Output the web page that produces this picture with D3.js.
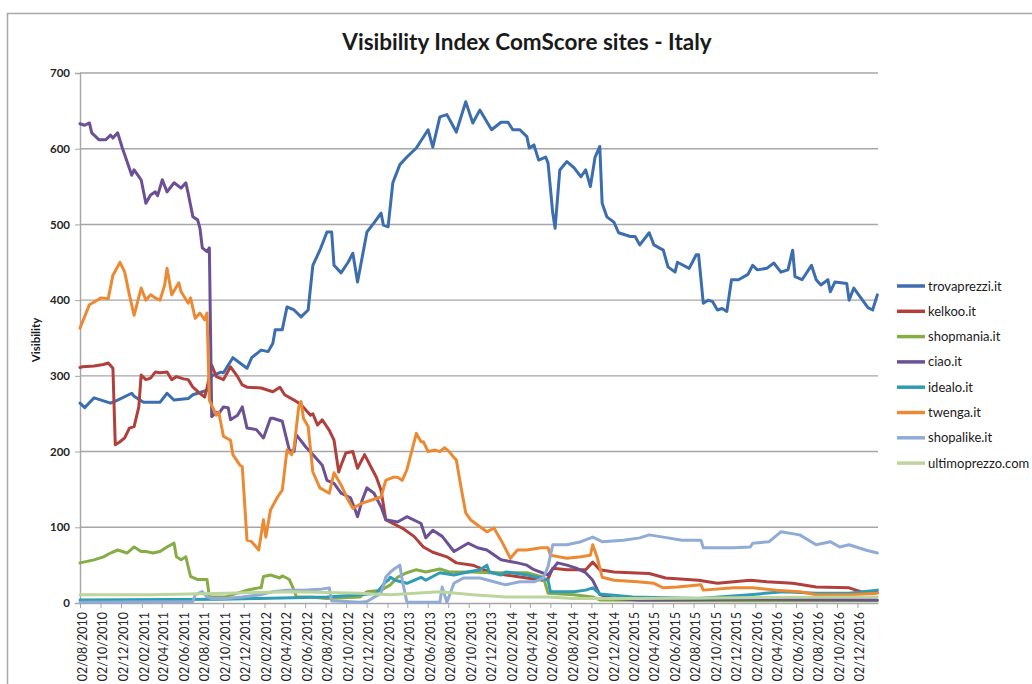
<!DOCTYPE html>
<html>
<head>
<meta charset="utf-8">
<script src="https://cdn.jsdelivr.net/npm/d3@7"></script>
<style>
body { margin: 0; background: #fff; }
text { font-family: Lato, "Open Sans", sans-serif; }
</style>
</head>
<body>
<svg id="chart" width="1032" height="684"></svg>
<script>
// weekly data, first element = week number counted from 02/08/2010
var trovaprezzi = [[0,264],[2,258],[6,271],[13,264],[16,268],[22,277],[23,273],[27,265],[34,265],[37,277],[40,268],[46,270],[48,275],[50,277],[54,281],[56,300],[60,305],[61,304],[65,324],[71,310],[73,324],[77,334],[80,332],[82,343],[83,361],[86,361],[88,391],[91,387],[94,378],[97,387],[99,446],[102,466],[105,490],[107,490],[108,446],[111,436],[114,450],[116,462],[118,424],[120,457],[122,490],[125,502],[128,515],[129,499],[131,497],[133,555],[136,579],[139,589],[143,601],[148,625],[150,602],[153,642],[156,645],[160,622],[164,662],[167,634],[170,651],[175,625],[179,635],[182,635],[184,625],[187,625],[190,616],[191,601],[193,605],[195,585],[198,589],[199,581],[201,515],[202,495],[204,572],[207,583],[210,575],[213,563],[215,572],[217,550],[219,589],[221,603],[222,528],[224,510],[227,503],[229,489],[234,484],[236,484],[238,473],[242,489],[244,473],[248,466],[250,444],[253,437],[254,450],[259,442],[262,460],[263,460],[265,396],[267,400],[269,398],[271,387],[273,389],[275,385],[277,427],[280,427],[284,434],[286,446],[288,440],[292,442],[295,449],[298,437],[301,440],[303,466],[304,431],[307,427],[311,446],[313,427],[315,420],[318,427],[319,411],[321,424],[326,422],[327,400],[329,416],[332,403],[335,390],[337,387],[339,407]];

var kelkoo = [[0,311],[1,312],[6,313],[10,315],[12,317],[14,310],[15,209],[17,213],[19,218],[21,231],[23,233],[25,259],[26,301],[28,295],[30,297],[32,305],[34,304],[37,305],[39,295],[41,299],[44,296],[46,295],[48,285],[51,277],[53,272],[54,284],[56,314],[58,299],[61,295],[64,312],[67,299],[69,288],[71,285],[77,284],[82,279],[85,285],[87,275],[91,268],[94,262],[98,248],[99,250],[101,235],[103,242],[106,228],[108,215],[110,173],[111,182],[113,198],[116,200],[118,178],[121,196],[124,178],[126,166],[128,149],[130,110],[133,105],[137,99],[142,88],[146,74],[150,67],[156,61],[160,53],[167,50],[174,41],[181,37],[190,33],[197,30],[199,32],[201,46],[207,44],[215,44],[218,54],[221,44],[227,41],[234,40],[242,39],[249,33],[263,30],[271,26],[285,30],[292,28],[303,26],[313,21],[327,20],[332,15],[339,14]];

var shopmania = [[0,53],[6,57],[10,61],[13,66],[16,70],[18,68],[20,66],[23,74],[26,68],[28,68],[31,66],[34,68],[37,74],[40,79],[41,61],[43,57],[45,61],[47,35],[50,31],[54,31],[55,8],[62,8],[67,13],[71,17],[76,20],[77,20],[78,35],[81,37],[85,33],[86,36],[89,31],[91,17],[92,8],[98,8],[105,6],[119,8],[122,15],[128,17],[132,24],[135,34],[139,40],[143,44],[147,41],[153,45],[157,41],[167,41],[174,40],[190,40],[197,34],[199,13],[210,11],[218,8],[221,4],[264,3],[306,3],[339,3]];

var ciao = [[0,633],[2,631],[4,634],[5,621],[8,612],[11,612],[13,618],[14,614],[16,621],[18,601],[20,583],[22,565],[23,572],[26,559],[28,528],[30,539],[32,543],[33,538],[35,559],[37,543],[40,555],[43,548],[45,555],[46,541],[48,510],[50,506],[51,495],[52,469],[54,464],[55,469],[56,246],[58,252],[59,250],[61,259],[63,258],[64,242],[67,248],[69,259],[71,231],[75,229],[78,218],[81,244],[82,244],[84,242],[86,240],[89,202],[91,200],[92,222],[96,206],[99,196],[103,182],[105,162],[108,158],[111,145],[115,139],[117,123],[118,114],[120,136],[122,152],[125,145],[128,127],[130,110],[135,107],[139,114],[145,105],[147,86],[150,96],[154,88],[159,68],[165,79],[169,73],[173,70],[179,57],[186,53],[190,50],[193,44],[199,37],[203,53],[207,50],[211,46],[215,40],[218,30],[221,11],[227,6],[238,4],[280,5],[339,4]];

var idealo = [[0,4],[60,5],[76,6],[105,8],[119,11],[126,13],[130,28],[131,30],[132,34],[134,30],[139,26],[145,34],[147,30],[153,40],[159,37],[165,41],[170,44],[173,50],[174,41],[179,37],[181,41],[186,39],[190,37],[196,33],[199,30],[200,15],[210,15],[215,17],[218,20],[221,12],[235,8],[263,6],[285,11],[299,15],[313,13],[327,13],[339,17]];

var twenga = [[0,363],[4,394],[9,403],[12,402],[14,433],[17,450],[19,437],[21,407],[23,380],[26,416],[28,400],[30,407],[32,403],[34,400],[36,420],[37,442],[39,407],[42,423],[43,411],[46,396],[47,403],[49,376],[51,383],[53,374],[54,383],[55,268],[56,261],[58,248],[59,252],[61,220],[64,215],[65,196],[68,182],[69,180],[71,83],[73,81],[76,70],[78,110],[79,87],[81,123],[84,140],[86,149],[88,202],[90,196],[91,205],[93,259],[94,266],[95,244],[97,233],[99,173],[102,152],[106,145],[108,172],[111,156],[114,136],[116,125],[120,132],[124,136],[128,140],[130,162],[133,166],[135,166],[137,162],[139,176],[141,200],[143,224],[145,213],[146,213],[148,200],[151,202],[153,200],[155,205],[157,200],[159,192],[160,189],[162,153],[164,119],[166,110],[169,103],[173,94],[176,99],[179,83],[183,59],[186,70],[190,70],[196,73],[199,73],[200,63],[207,59],[213,61],[217,63],[218,77],[220,59],[222,34],[227,30],[237,28],[244,26],[248,20],[254,21],[264,24],[265,17],[278,20],[286,20],[296,17],[306,15],[313,11],[327,11],[339,13]];

var shopalike = [[0,1],[48,2],[49,11],[52,15],[54,8],[56,6],[62,6],[69,8],[77,11],[82,15],[88,17],[95,17],[102,18],[106,20],[107,3],[119,1],[122,2],[128,13],[130,34],[132,41],[134,46],[136,50],[137,30],[139,1],[153,1],[154,21],[156,1],[159,26],[163,33],[170,33],[176,28],[181,24],[187,28],[193,28],[197,33],[199,48],[201,77],[207,77],[213,81],[218,87],[222,81],[231,83],[238,86],[242,90],[248,87],[256,83],[264,83],[265,73],[278,73],[285,74],[286,79],[293,81],[298,94],[306,90],[313,77],[319,81],[323,74],[327,77],[334,70],[339,66]];

var ultimoprezzo = [[0,11],[30,11],[62,13],[90,15],[119,13],[132,11],[153,15],[167,11],[181,8],[199,8],[210,6],[238,6],[280,7],[339,8]];

var seriesNames = ["trovaprezzi.it", "kelkoo.it", "shopmania.it", "ciao.it", "idealo.it", "twenga.it", "shopalike.it", "ultimoprezzo.com"];
var seriesData = [trovaprezzi, kelkoo, shopmania, ciao, idealo, twenga, shopalike, ultimoprezzo];
var seriesColors = ["#3c6eaf", "#b13f3c", "#86ac45", "#6b5096", "#2f9bb4", "#ec8a33", "#90abd6", "#bcd59c"];

var xTickLabels = ["02/08/2010","02/10/2010","02/12/2010","02/02/2011","02/04/2011","02/06/2011","02/08/2011","02/10/2011","02/12/2011","02/02/2012","02/04/2012","02/06/2012","02/08/2012","02/10/2012","02/12/2012","02/02/2013","02/04/2013","02/06/2013","02/08/2013","02/10/2013","02/12/2013","02/02/2014","02/04/2014","02/06/2014","02/08/2014","02/10/2014","02/12/2014","02/02/2015","02/04/2015","02/06/2015","02/08/2015","02/10/2015","02/12/2015","02/02/2016","02/04/2016","02/06/2016","02/08/2016","02/10/2016","02/12/2016"];
var yTicks = [0, 100, 200, 300, 400, 500, 600, 700];

var svg = d3.select("#chart");
var parse = d3.timeParse("%d/%m/%Y");
var startDate = parse("02/08/2010");
var endDate = parse("01/02/2017");

var x = d3.scaleTime().domain([startDate, endDate]).range([80, 878]);
var y = d3.scaleLinear().domain([0, 700]).range([603, 73]);

function weekDate(w) {
    return d3.timeDay.offset(startDate, w * 7);
}

// chart frame
svg.append("rect")
    .attr("x", 7.5).attr("y", 13.5)
    .attr("width", 1100).attr("height", 800)
    .attr("fill", "none")
    .attr("stroke", "#a9a9a9")
    .attr("stroke-width", 1.5);

svg.append("text")
    .attr("x", 527).attr("y", 50)
    .attr("text-anchor", "middle")
    .attr("font-size", 22.5)
    .attr("font-weight", "bold")
    .attr("fill", "#1a1a1a")
    .text("Visibility Index ComScore sites - Italy");

// gridlines
svg.append("g")
    .selectAll("line")
    .data(yTicks.slice(1))
    .enter()
    .append("line")
    .attr("x1", 80).attr("x2", 878)
    .attr("y1", function (d) { return y(d); })
    .attr("y2", function (d) { return y(d); })
    .attr("stroke", "#a6a6a6")
    .attr("stroke-width", 1.4);

var yAxis = svg.append("g")
    .attr("transform", "translate(80,0)")
    .call(d3.axisLeft(y).tickValues(yTicks).tickSize(5).tickPadding(5));
yAxis.select(".domain").attr("stroke", "#a6a6a6").attr("stroke-width", 1.4);
yAxis.selectAll(".tick line").attr("stroke", "#a6a6a6");
yAxis.selectAll("text")
    .attr("font-size", 11.5)
    .attr("font-weight", "bold")
    .attr("fill", "#262626");

var xAxis = svg.append("g")
    .attr("transform", "translate(0,603)")
    .call(d3.axisBottom(x)
        .tickValues(xTickLabels.map(parse))
        .tickFormat(d3.timeFormat("%d/%m/%Y"))
        .tickSize(5)
        .tickSizeOuter(0));
xAxis.select(".domain").attr("stroke", "#a6a6a6").attr("stroke-width", 1.4);
xAxis.selectAll(".tick line").attr("stroke", "#a6a6a6");
xAxis.selectAll("text")
    .attr("transform", "rotate(-90)")
    .attr("text-anchor", "end")
    .attr("x", -9)
    .attr("y", 0)
    .attr("dy", "0.5em")
    .attr("font-size", 12.5)
    .attr("fill", "#262626");

svg.append("text")
    .attr("transform", "translate(40,340) rotate(-90)")
    .attr("text-anchor", "middle")
    .attr("font-size", 11.5)
    .attr("font-weight", "bold")
    .attr("fill", "#1a1a1a")
    .text("Visibility");

var line = d3.line()
    .x(function (d) { return x(weekDate(d[0])); })
    .y(function (d) { return y(d[1]); });

svg.append("g")
    .selectAll("path")
    .data(seriesData)
    .enter()
    .append("path")
    .attr("d", line)
    .attr("fill", "none")
    .attr("stroke", function (d, i) { return seriesColors[i]; })
    .attr("stroke-width", 3)
    .attr("stroke-linejoin", "round")
    .attr("stroke-linecap", "round");

// legend
var legend = svg.append("g")
    .selectAll("g")
    .data(seriesNames)
    .enter()
    .append("g")
    .attr("transform", function (d, i) {
        return "translate(897," + (286 + i * 25.3) + ")";
    });

legend.append("line")
    .attr("x1", 0).attr("x2", 28)
    .attr("stroke", function (d, i) { return seriesColors[i]; })
    .attr("stroke-width", 3.5);

legend.append("text")
    .attr("x", 31)
    .attr("dy", "0.35em")
    .attr("font-size", 13)
    .attr("fill", "#1a1a1a")
    .text(function (d) { return d; });
</script>
</body>
</html>
